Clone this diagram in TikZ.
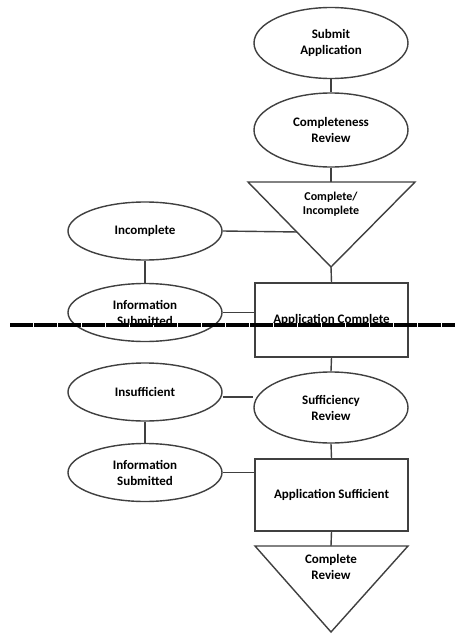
\documentclass[tikz,border=0pt]{standalone}
\usepackage{fontspec}
\setmainfont{Carlito}
\usetikzlibrary{shapes.geometric,calc}
\definecolor{ln}{HTML}{404040}
\tikzset{
  ell/.style={ellipse, draw=ln, line width=1.4pt, inner sep=0pt, minimum width=154pt, minimum height=#1, align=center, font=\bfseries\fontsize{13}{16}\selectfont},
  ell/.default=58pt,
  boxn/.style={rectangle, draw=ln, line width=1.4pt, inner sep=0pt, minimum width=153pt, minimum height=74pt, align=center, font=\bfseries\fontsize{13}{16}\selectfont},
  conn/.style={draw=ln, line width=1.4pt},
  tri/.style={draw=ln, line width=1.4pt, line join=miter},
  tritext/.style={align=center, inner sep=0pt},
  cut/.style={draw=black, line width=4pt, dash pattern=on 23pt off 1pt}
}
\begin{document}
\begin{tikzpicture}[x=1pt,y=-1pt]
\useasboundingbox[fill=white] (0,0) rectangle (455,634);
% right column
\node[ell=71pt] (submit) at (331,43) {Submit\\Application};
\node[ell=74pt] (compl) at (331,130) {Completeness\\Review};
% triangle 1
\coordinate (t1l) at (248,182);
\coordinate (t1r) at (415,182);
\coordinate (t1a) at (331,267);
\coordinate (t1top) at (331,182);
\draw[tri] (t1l) -- (t1r) -- (t1a) -- cycle;
\node[tritext, font=\bfseries\fontsize{12}{14.5}\selectfont] (t1txt) at (331,204) {Complete/\\Incomplete};
\node[boxn] (appc) at (331.5,320) {Application Complete};
\node[ell=71pt] (suff) at (331,407.5) {Sufficiency\\Review};
\node[boxn, minimum height=72pt] (apps) at (331.5,495) {Application Sufficient};
% triangle 2
\coordinate (t2l) at (255,546);
\coordinate (t2r) at (408,546);
\coordinate (t2a) at (331,632);
\coordinate (t2top) at (331,546);
\draw[tri] (t2l) -- (t2r) -- (t2a) -- cycle;
\node[tritext, font=\bfseries\fontsize{13}{16}\selectfont] (t2txt) at (331,567) {Complete\\Review};
% left column
\node[ell] (incomp) at (145,231) {Incomplete};
\node[ell] (info1) at (145,312.5) {Information\\Submitted};
\node[ell] (insuff) at (145,392) {Insufficient};
\node[ell] (info2) at (145,472.5) {Information\\Submitted};
% connectors
\draw[conn] (submit.south) -- (compl.north);
\draw[conn] (compl.south) -- (t1top);
\coordinate (t1e) at ($(t1l)!0.588!(t1a)$);
\draw[conn] (incomp.east) -- (t1e);
\draw[conn] (incomp.south) -- (info1.north);
\draw[conn] (t1a) -- (appc.north);
\draw[conn] (info1.east) -- (appc.west |- info1.east);
\draw[conn] (appc.south) -- (suff.north);
\coordinate (insE) at ($(insuff.east)+(0,5)$);
\draw[conn] (insE) -- (insE -| suff.west);
\draw[conn] (insuff.south) -- (info2.north);
\draw[conn] (suff.south) -- (apps.north);
\draw[conn] (info2.east) -- (apps.west |- info2.east);
\draw[conn] (apps.south) -- (t2top);
% cut line
\coordinate (cutL) at (10,324.5);
\coordinate (cutR) at (455,324.5);
\draw[cut] (cutL) -- (cutR);
\end{tikzpicture}
\end{document}
